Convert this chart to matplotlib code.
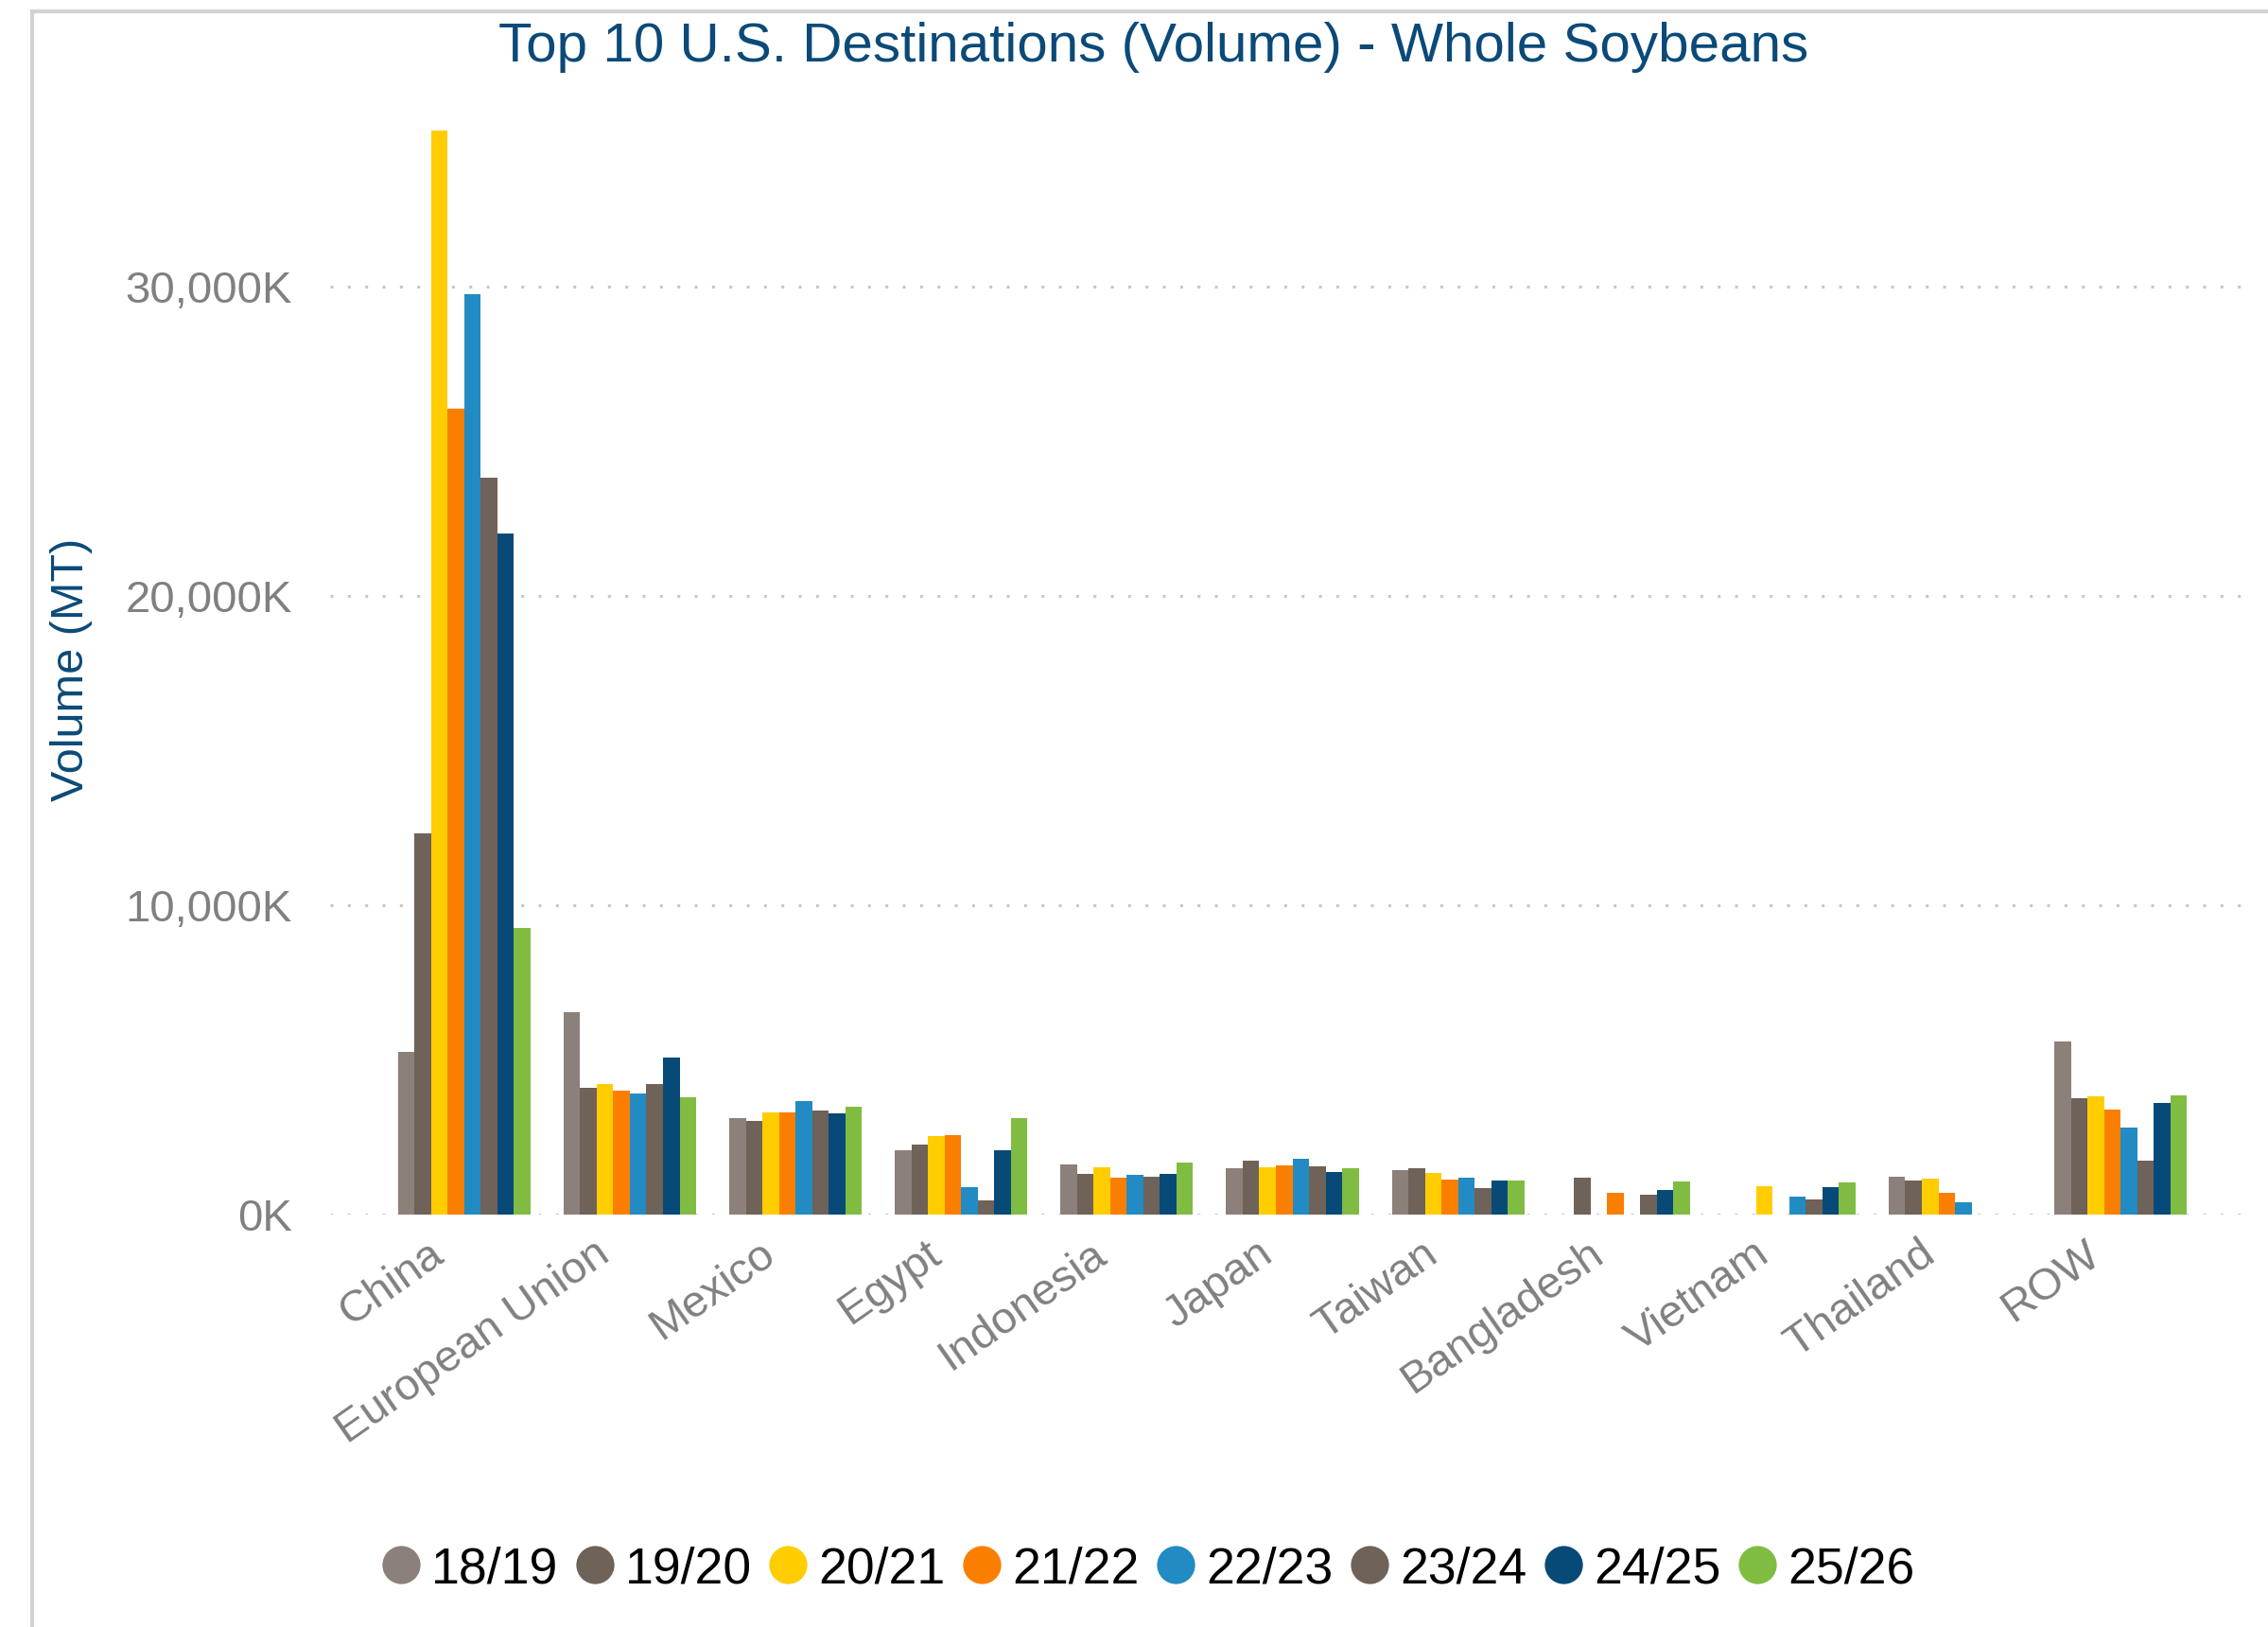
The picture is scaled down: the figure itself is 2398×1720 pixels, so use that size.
import numpy as np
import matplotlib
matplotlib.use("Agg")
import matplotlib.pyplot as plt
import matplotlib.transforms as mtransforms
from matplotlib.lines import Line2D

# volumes in thousand MT; nan = no bar
countries = ["China", "European Union", "Mexico", "Egypt", "Indonesia", "Japan",
             "Taiwan", "Bangladesh", "Vietnam", "Thailand", "ROW"]
seasons = ["18/19", "19/20", "20/21", "21/22", "22/23", "23/24", "24/25", "25/26"]
nan = np.nan
v_1819 = [5257, 6542, 3117, 2068, 1615, 1492, 1430, nan, nan, 1214, 5590]
v_1920 = [12336, 4089, 3035, 2263, 1307, 1739, 1512, 1183, nan, 1091, 3776]
v_2021 = [35047, 4206, 3313, 2541, 1543, 1543, 1337, nan, 926, 1152, 3837]
v_2122 = [26051, 3995, 3313, 2562, 1183, 1584, 1121, 689, nan, 689, 3405]
v_2223 = [29766, 3902, 3683, 895, 1276, 1790, 1183, nan, 566, 412, 2819]
v_2324 = [23832, 4206, 3374, 473, 1235, 1553, 844, 628, 504, nan, 1739]
v_2425 = [22009, 5070, 3272, 2068, 1307, 1368, 1091, 782, 874, nan, 3621]
v_2526 = [9276, 3785, 3488, 3117, 1667, 1512, 1091, 1080, 1029, nan, 3868]
values = [v_1819, v_1920, v_2021, v_2122, v_2223, v_2324, v_2425, v_2526]

colors = ["#8C807A", "#6E6259", "#FFCD00", "#FA7F00", "#228BC3", "#6E6259",
          "#074A78", "#80BC42"]
title_blue = "#0B4A78"
grey_txt = "#808080"

plt.rcParams["font.family"] = ["Liberation Sans", "DejaVu Sans"]

W, H = 2398, 1720
fig = plt.figure(figsize=(W / 100, H / 100), dpi=100)
ax = fig.add_axes([349 / W, 1 - 1284 / H, (2370 - 349) / W, (1284 - 123) / H])

x = np.arange(len(countries))
w = 0.1
for i, (s, vals) in enumerate(zip(seasons, values)):
    ax.bar(x + (i - 3.5) * w, vals, width=w, color=colors[i], label=s, linewidth=0)

ax.set_xlim(-0.81, 10.73)
ax.set_ylim(0, 35500)
yt = [0, 10000, 20000, 30000]
ax.set_yticks(yt)
ax.set_yticklabels([f"{t:,.0f}K" for t in yt])
ax.tick_params(axis="y", length=0, pad=29, labelsize=34, labelcolor=grey_txt)
ax.set_xticks(x)
ax.set_xticklabels(countries, rotation=35, ha="right", va="center",
                   rotation_mode="anchor")
ax.tick_params(axis="x", length=0, pad=27, labelsize=34, labelcolor=grey_txt)
shift = mtransforms.ScaledTranslation(-0.26, 0, fig.dpi_scale_trans)
for lab in ax.get_xticklabels():
    lab.set_transform(lab.get_transform() + shift)

for sp in ax.spines.values():
    sp.set_visible(False)
ax.set_axisbelow(True)
ax.yaxis.grid(True, color="#C8C8C8", linewidth=2.2, linestyle=(0, (1, 5)))
ax.set_facecolor("none")

fig.text(76 / W, 1 - 708 / H, "Volume (MT)", rotation=90, color=title_blue,
         fontsize=35, ha="center", va="center")

fig.text(0.5086, 1 - 65 / H, "Top 10 U.S. Destinations (Volume) - Whole Soybeans",
         color=title_blue, fontsize=42, ha="center", va="baseline")

handles = [Line2D([], [], marker="o", linestyle="none", markersize=29,
                  markerfacecolor=c, markeredgewidth=0) for c in colors]
fig.legend(handles, seasons, loc="center", bbox_to_anchor=(0.506, 1 - 1659 / H),
           ncol=8, frameon=False, fontsize=38.5, handletextpad=0.2,
           columnspacing=0.32, handlelength=0.8)

# card border (left and top edges)
bx, by = 34 / W, 1 - 12 / H
fig.add_artist(Line2D([bx, bx], [0, by], color="#D2D2D2", linewidth=3,
                      transform=fig.transFigure))
fig.add_artist(Line2D([bx, 1], [by, by], color="#D2D2D2", linewidth=3,
                      transform=fig.transFigure))

fig.savefig("out.png", dpi=100, facecolor="white")
